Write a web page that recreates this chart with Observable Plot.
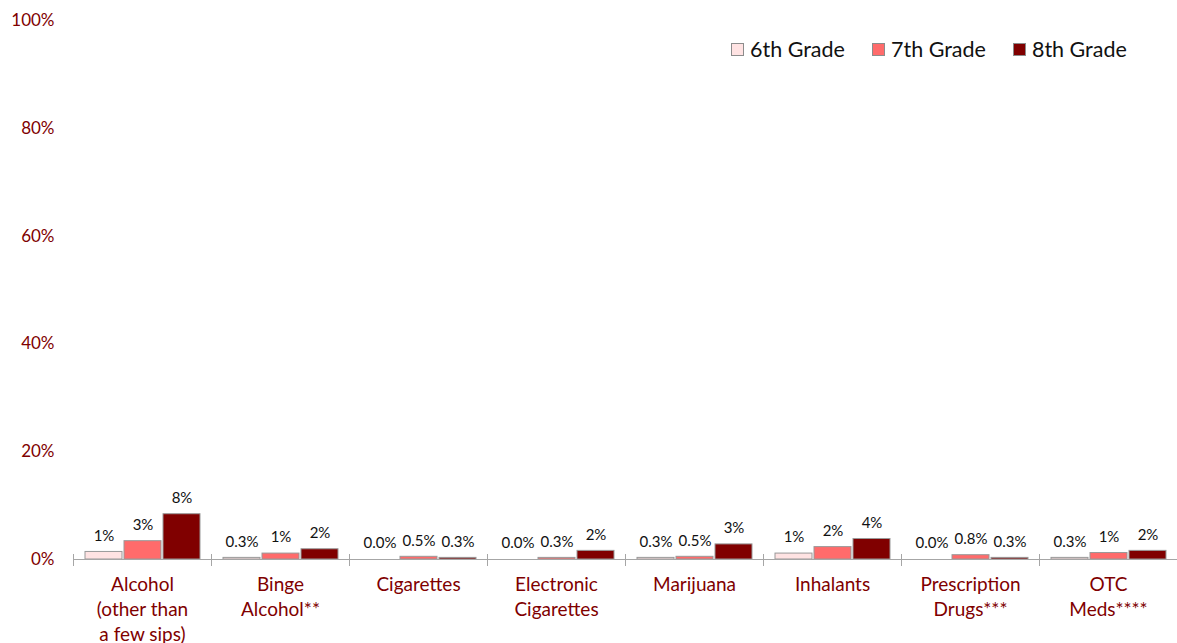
<!DOCTYPE html>
<html>
<head>
<meta charset="utf-8">
<script src="https://cdn.jsdelivr.net/npm/d3@7"></script>
<script src="https://cdn.jsdelivr.net/npm/@observablehq/plot@0.6"></script>
<style>
  html, body { margin: 0; padding: 0; background: #fff; }
  #wrap { position: relative; width: 1177px; height: 643px; font-family: Lato, sans-serif; }
  #legend { position: absolute; top: 36px; left: 731px; display: flex; align-items: center; font-size: 21.5px; color: #111; }
  .item { display: flex; align-items: center; margin-right: 27px; }
  .sw { width: 11px; height: 11px; border: 1px solid #8c8c8c; margin-right: 6px; }
</style>
</head>
<body>
<div id="wrap"><div id="legend"></div></div>
<script>
const categories = ["Alcohol\n(other than\na few sips)", "Binge\nAlcohol**", "Cigarettes", "Electronic\nCigarettes", "Marijuana", "Inhalants", "Prescription\nDrugs***", "OTC\nMeds****"];
const grades = ["6th Grade", "7th Grade", "8th Grade"];
const colors = ["#ffe3e3", "#ff6b6b", "#800000"];
const grade6 = [1.4, 0.3, 0.0, 0.0, 0.3, 1.1, 0.0, 0.3];
const grade7 = [3.4, 1.1, 0.5, 0.3, 0.5, 2.3, 0.8, 1.2];
const grade8 = [8.4, 1.9, 0.3, 1.6, 2.8, 3.8, 0.3, 1.6];
const labels6 = ["1%", "0.3%", "0.0%", "0.0%", "0.3%", "1%", "0.0%", "0.3%"];
const labels7 = ["3%", "1%", "0.5%", "0.3%", "0.5%", "2%", "0.8%", "1%"];
const labels8 = ["8%", "2%", "0.3%", "2%", "3%", "4%", "0.3%", "2%"];
const yTicks = [0, 20, 40, 60, 80, 100];

const series = [grade6, grade7, grade8];
const labelSets = [labels6, labels7, labels8];
const data = [];
categories.forEach((c, i) => grades.forEach((g, j) => data.push({category: c, grade: g, value: series[j][i], label: labelSets[j][i]})));

const axisColor = "#a6a6a6";
const textRed = "#7f0000";

const chart = Plot.plot({
  width: 1177,
  height: 643,
  marginLeft: 73,
  marginRight: 0,
  marginTop: 20,
  marginBottom: 84,
  style: {fontFamily: "Lato, sans-serif", background: "transparent"},
  fx: {domain: categories, padding: 0, label: null},
  x: {domain: grades, paddingInner: 0.063, paddingOuter: 0.28, axis: null},
  y: {domain: [0, 100], label: null},
  color: {domain: grades, range: colors},
  marks: [
    Plot.axisY({ticks: yTicks, tickSize: 0, tickPadding: 19, tickFormat: d => d + "%", fontSize: 17, fill: textRed, label: null}),
    Plot.axisFx({anchor: "bottom", tickSize: 0, tickPadding: 14, fontSize: 19, fill: textRed, lineHeight: 1.31, label: null}),
    Plot.barY(data, {fx: "category", x: "grade", y: "value", fill: "grade", stroke: "#999", strokeWidth: 1}),
    Plot.ruleY([0], {stroke: axisColor, strokeWidth: 1}),
    Plot.frame({anchor: "left", stroke: axisColor, insetTop: 534, insetBottom: -6}),
    Plot.frame({anchor: "right", stroke: axisColor, insetTop: 534, insetBottom: -6}),
    Plot.text(data, {fx: "category", x: "grade", y: "value", text: "label", dy: -16, fontSize: 15, fill: "#111", lineAnchor: "middle"})
  ]
});
document.getElementById("wrap").prepend(chart);

const legend = document.getElementById("legend");
grades.forEach((g, j) => {
  const item = document.createElement("div");
  item.className = "item";
  const sw = document.createElement("div");
  sw.className = "sw";
  sw.style.background = colors[j];
  const t = document.createElement("span");
  t.textContent = g;
  item.append(sw, t);
  legend.append(item);
});
</script>
</body>
</html>
